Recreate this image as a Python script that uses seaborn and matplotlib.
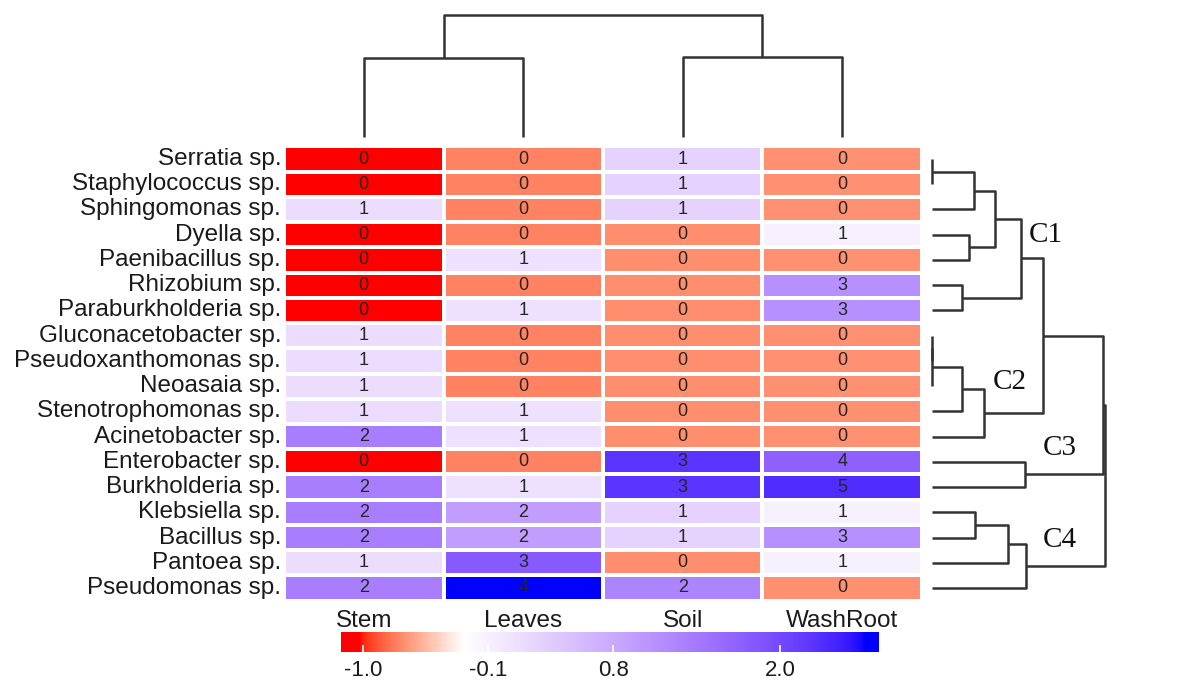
import numpy as np
import pandas as pd
import matplotlib
matplotlib.use("Agg")
import matplotlib.pyplot as plt
import seaborn as sns
from matplotlib.colors import ListedColormap

# ---------------- data ----------------
species = ["Serratia sp.", "Staphylococcus sp.", "Sphingomonas sp.", "Dyella sp.",
           "Paenibacillus sp.", "Rhizobium sp.", "Paraburkholderia sp.",
           "Gluconacetobacter sp.", "Pseudoxanthomonas sp.", "Neoasaia sp.",
           "Stenotrophomonas sp.", "Acinetobacter sp.", "Enterobacter sp.",
           "Burkholderia sp.", "Klebsiella sp.", "Bacillus sp.", "Pantoea sp.",
           "Pseudomonas sp."]
sites = ["Stem", "Leaves", "Soil", "WashRoot"]
stem = [0, 0, 1, 0, 0, 0, 0, 1, 1, 1, 1, 2, 0, 2, 2, 2, 1, 2]
leaves = [0, 0, 0, 0, 1, 0, 1, 0, 0, 0, 1, 1, 0, 1, 2, 2, 3, 4]
soil = [1, 1, 1, 0, 0, 0, 0, 0, 0, 0, 0, 0, 3, 3, 1, 1, 0, 2]
washroot = [0, 0, 0, 1, 0, 3, 3, 0, 0, 0, 0, 0, 4, 5, 1, 3, 1, 0]

cbar_ticks = [-1.0, -0.1, 0.8, 2.0]
cbar_ticklabels = ["-1.0", "-0.1", "0.8", "2.0"]

# row dendrogram merges (ids 0-17 leaves, 18+ merged nodes)
row_left = [0, 18, 3, 19, 5, 21, 7, 24, 25, 26, 23, 12, 14, 30, 31, 28, 33]
row_right = [1, 2, 4, 20, 6, 22, 8, 9, 10, 11, 27, 13, 15, 16, 17, 29, 32]
row_height = [0.0, 0.98, 0.85, 1.46, 0.69, 2.06, 0.0, 0.0, 0.69, 1.21, 2.58,
              2.15, 1.0, 1.77, 2.18, 3.96, 4.0]
cluster_names = ["C1", "C2", "C3", "C4"]

# column dendrogram merges (ids 0-3 leaves, 4+ merged nodes)
col_left = [0, 2, 4]
col_right = [1, 3, 5]
col_height = [3.89, 3.93, 6.0]

# ---------------- derived ----------------
counts = pd.DataFrame({"Stem": stem, "Leaves": leaves, "Soil": soil,
                       "WashRoot": washroot}, index=species)[sites]
zscore = (counts - counts.mean()) / counts.std(ddof=1)

# ---------------- colormap (Lab interpolation red-white-blue) ----------------
_M = np.array([[0.4124, 0.3576, 0.1805], [0.2126, 0.7152, 0.0722],
               [0.0193, 0.1192, 0.9505]])
_W = np.array([0.95047, 1.0, 1.08883])


def rgb2lab(rgb):
    c = np.asarray(rgb, float)
    lin = np.where(c <= 0.04045, c / 12.92, ((c + 0.055) / 1.055) ** 2.4)
    xyz = lin @ _M.T / _W
    d = 6 / 29
    f = np.where(xyz > d ** 3, np.cbrt(xyz), xyz / (3 * d * d) + 4 / 29)
    return np.array([116 * f[1] - 16, 500 * (f[0] - f[1]), 200 * (f[1] - f[2])])


def lab2rgb(lab):
    L, a, b = lab
    fy = (L + 16) / 116
    fx = fy + a / 500
    fz = fy - b / 200
    d = 6 / 29
    f = np.array([fx, fy, fz])
    xyz = np.where(f > d, f ** 3, 3 * d * d * (f - 4 / 29)) * _W
    lin = np.linalg.inv(_M) @ xyz
    lin = np.clip(lin, 0, None)
    srgb = np.where(lin <= 0.0031308, 12.92 * lin, 1.055 * lin ** (1 / 2.4) - 0.055)
    return np.clip(srgb, 0, 1)


vmin, vmax = -1.16, 2.71
nodes_v = [vmin, -1.03, -0.28, 2.62, vmax]
nodes_c = [(1, 0, 0), (1, 0, 0), (1, 1, 1), (0, 0, 1), (0, 0, 1)]
nodes_lab = [rgb2lab(c) for c in nodes_c]
vals = np.linspace(vmin, vmax, 512)
cols = []
for v in vals:
    i = min(np.searchsorted(nodes_v, v, side="right") - 1, len(nodes_v) - 2)
    i = max(i, 0)
    t = (v - nodes_v[i]) / (nodes_v[i + 1] - nodes_v[i])
    lab = (1 - t) * nodes_lab[i] + t * nodes_lab[i + 1]
    cols.append(lab2rgb(lab))
cmap = ListedColormap(np.array(cols))

# ---------------- figure ----------------
plt.rcParams["font.family"] = ["Liberation Sans", "DejaVu Sans"]
plt.rcParams["axes.unicode_minus"] = False
W, H = 1177, 686
fig = plt.figure(figsize=(W / 100, H / 100), dpi=100)


def px_axes(x0, y0, x1, y1):
    return fig.add_axes([x0 / W, 1 - y1 / H, (x1 - x0) / W, (y1 - y0) / H])


hm_x0, hm_y0, hm_x1, hm_y1 = 284, 146.4, 922, 600.6
ax = px_axes(hm_x0, hm_y0, hm_x1, hm_y1)
sns.heatmap(zscore, ax=ax, cmap=cmap, vmin=vmin, vmax=vmax, annot=counts.values,
            fmt="d", annot_kws=dict(size=13, color="#262626"),
            linewidths=1.6, linecolor="white", cbar=False,
            xticklabels=sites, yticklabels=species)
ax.tick_params(axis="both", length=0, labelsize=17.5, colors="#1a1a1a")
ax.tick_params(axis="y", pad=2)
ax.tick_params(axis="x", pad=7)
ax.set_xlabel("")
ax.set_ylabel("")
plt.setp(ax.get_yticklabels(), rotation=0)
plt.setp(ax.get_xticklabels(), rotation=0)


def dendro_segments(left, right, height, n_leaves):
    pos = {i: i + 0.5 for i in range(n_leaves)}
    hgt = {i: 0.0 for i in range(n_leaves)}
    segs = []
    for k, (a, b, h) in enumerate(zip(left, right, height)):
        nid = n_leaves + k
        segs.append(([pos[a], pos[a], pos[b], pos[b]], [hgt[a], h, h, hgt[b]]))
        pos[nid] = (pos[a] + pos[b]) / 2
        hgt[nid] = h
    return segs


line_kw = dict(color="#333333", lw=1.8, clip_on=False, solid_capstyle="butt")

# column dendrogram (top)
axc = px_axes(hm_x0, 15, hm_x1, 137)
for xs, ys in dendro_segments(col_left, col_right, col_height, len(sites)):
    axc.plot(xs, ys, **line_kw)
axc.set_xlim(0, len(sites))
axc.set_ylim(0, max(col_height))
axc.axis("off")

# row dendrogram (right)
axr = px_axes(931.7, hm_y0, 1105, hm_y1)
for ps, hs in dendro_segments(row_left, row_right, row_height, len(species)):
    axr.plot(hs, ps, **line_kw)
axr.set_ylim(len(species), 0)
axr.set_xlim(0, max(row_height))
axr.axis("off")
for name, (tx, ty) in zip(cluster_names, [(2.64, 3.50), (1.81, 9.35),
                                          (2.96, 11.95), (2.96, 15.60)]):
    axr.text(tx, ty, name, family=["Liberation Serif", "DejaVu Serif"],
             fontsize=21, ha="center", va="center", color="#111111")

# colorbar
cax = px_axes(341, 632, 879, 652)
cb = fig.colorbar(ax.collections[0], cax=cax, orientation="horizontal",
                  ticks=cbar_ticks)
cb.set_ticklabels(cbar_ticklabels)
cb.outline.set_visible(False)
cax.tick_params(axis="x", direction="in", length=5, width=1.2, color="white",
                labelsize=16, pad=6, labelcolor="#1a1a1a")

fig.savefig("out.png", dpi=100)
